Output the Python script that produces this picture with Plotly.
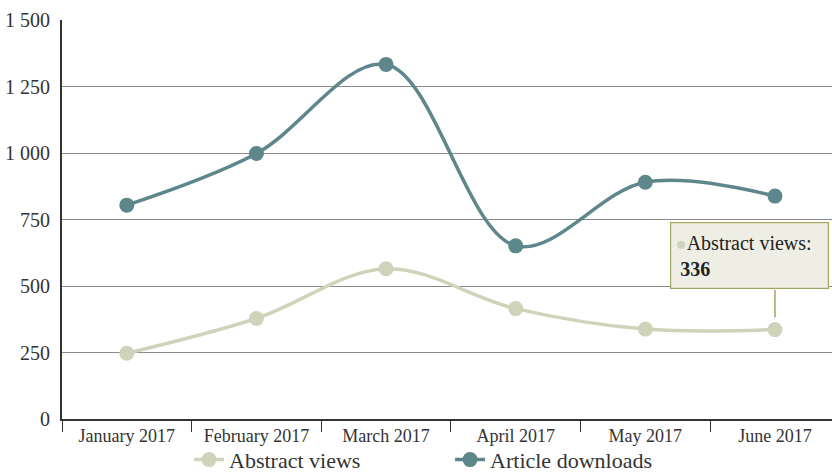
import plotly.graph_objects as go

months = ["January 2017", "February 2017", "March 2017", "April 2017", "May 2017", "June 2017"]
abstract_views = [247, 378, 565, 415, 338, 336]
article_downloads = [804, 998, 1333, 651, 890, 838]
y_ticks = [0, 250, 500, 750, 1000, 1250, 1500]

FONT = "Liberation Serif"
C_ABS = "#CED4BA"
C_ART = "#5E878B"
C_TIP = "#A3A65A"

fig = go.Figure()
fig.add_trace(go.Scatter(
    x=months, y=abstract_views, name="Abstract views", mode="lines+markers",
    line=dict(color=C_ABS, width=3.5, shape="spline", smoothing=1.0),
    marker=dict(color=C_ABS, size=15),
))
fig.add_trace(go.Scatter(
    x=months, y=article_downloads, name="Article downloads", mode="lines+markers",
    line=dict(color=C_ART, width=3.5, shape="spline", smoothing=1.0),
    marker=dict(color=C_ART, size=15),
))

# tooltip box
fig.add_annotation(
    x=months[5], y=abstract_views[5], xref="x", yref="y",
    text="<span style='color:%s;font-size:19px'>●</span>Abstract views:<br> <b>%d</b>" % (C_ABS, abstract_views[5]),
    showarrow=False, xshift=-25.5, yshift=74.5,
    width=149, height=57, align="left", valign="middle",
    bgcolor="#EFEEE4", bordercolor=C_TIP, borderwidth=1.2, borderpad=4,
    font=dict(family=FONT, size=20, color="#222"),
)
# tooltip pointer
fig.add_annotation(
    x=months[5], y=abstract_views[5], xref="x", yref="y", text="",
    showarrow=True, arrowhead=0, arrowwidth=1.5, arrowcolor=C_TIP,
    ax=0, ay=-41, standoff=12,
)

fig.update_layout(
    width=832, height=475,
    margin=dict(l=62, r=0, t=20, b=56, autoexpand=False),
    paper_bgcolor="white", plot_bgcolor="white",
    font=dict(family=FONT, size=18, color="#333"),
    separators=". ",
    showlegend=True,
    legend=dict(orientation="h", xref="paper", x=0.165, xanchor="left",
                yref="container", y=0.032, yanchor="middle",
                font=dict(family=FONT, size=22, color="#333"),
                entrywidth=216, entrywidthmode="pixels",
                bgcolor="rgba(0,0,0,0)"),
    xaxis=dict(
        type="category", range=[-0.5, 5.44],
        showline=True, linecolor="#333", linewidth=1.5,
        ticks="outside", tickson="boundaries", ticklen=11, tickcolor="#333",
        showgrid=False, tickfont=dict(family=FONT, size=18, color="#333"),
    ),
    yaxis=dict(
        range=[0, 1500], tickvals=y_ticks, tickformat=",",
        showline=True, linecolor="#333", linewidth=2,
        showgrid=True, gridcolor="#8A8A8A", gridwidth=1,
        ticks="", ticklabelstandoff=6,
        tickfont=dict(family=FONT, size=20, color="#333"),
        zeroline=False,
    ),
)

fig.write_html("out.html")
